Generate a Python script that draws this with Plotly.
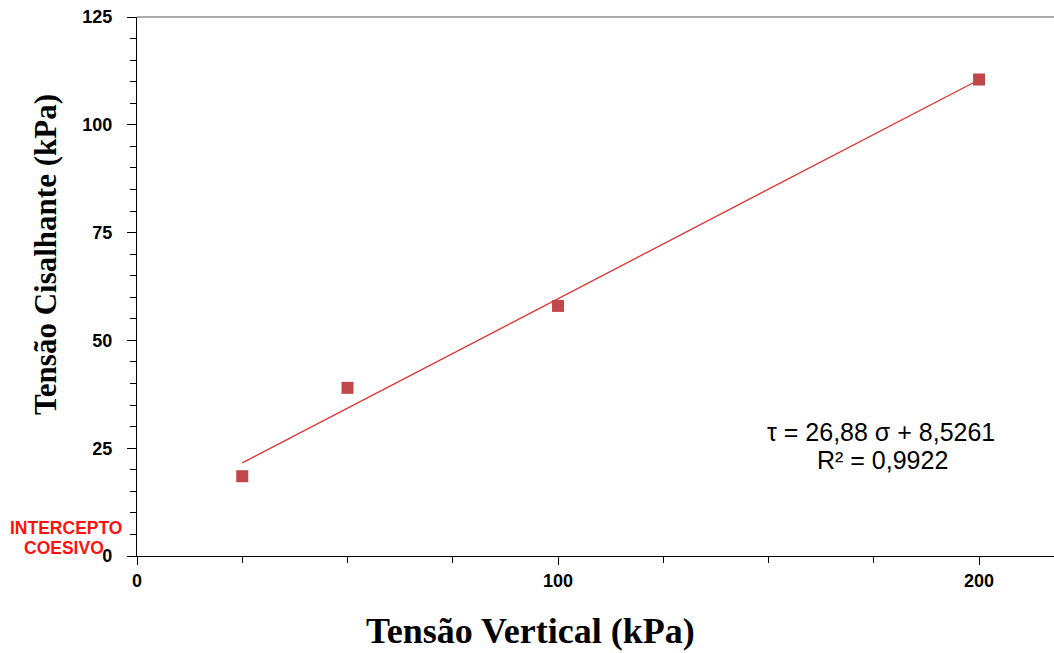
import numpy as np
import plotly.graph_objects as go

sigma = [25, 50, 100, 200]
tau = [18.5, 39.0, 58.0, 110.5]
x_ticks = [0, 100, 200]
y_ticks = [0, 25, 50, 75, 100, 125]

slope, intercept = np.polyfit(sigma, tau, 1)
fit_x = [sigma[0], sigma[-1]]
fit_y = [slope * v + intercept for v in fit_x]

L, R, T, B = 137, 1054, 17, 556
def px(xp):
    return (xp - L) / (R - L)
def py(yp):
    return (B - yp) / (B - T)

fig = go.Figure()
fig.add_trace(go.Scatter(x=fit_x, y=fit_y, mode="lines",
                         line=dict(color="#e03030", width=1.3), showlegend=False))
fig.add_trace(go.Scatter(x=sigma, y=tau, mode="markers",
                         marker=dict(symbol="square", size=12, color="#c0474a",
                                     line=dict(width=0)), showlegend=False))

tickfont = dict(family="Arial, Liberation Sans", size=18, color="black", weight="bold")
red_font = dict(family="Arial, Liberation Sans", size=17.5, color="#ff1010", weight="bold")
fig.update_layout(
    width=1054, height=653,
    margin=dict(l=L, r=1054 - R, t=T, b=653 - B),
    plot_bgcolor="white", paper_bgcolor="white",
    xaxis=dict(range=[0, 217.8], tickvals=x_ticks, ticks="outside", ticklen=8,
               tickcolor="black", showline=True, linecolor="black", linewidth=1.3,
               showgrid=False, zeroline=False, automargin=False, tickfont=tickfont,
               minor=dict(dtick=25, ticks="outside", ticklen=6, tickcolor="black", showgrid=False)),
    yaxis=dict(range=[0, 125], tickvals=y_ticks, ticks="outside", ticklen=9,
               tickcolor="black", showline=True, linecolor="black", linewidth=1.3,
               showgrid=False, zeroline=False, automargin=False, tickfont=tickfont,
               ticklabelstandoff=11,
               minor=dict(dtick=5, ticks="outside", ticklen=6, tickcolor="black", showgrid=False)),
    shapes=[dict(type="line", xref="paper", yref="paper", x0=0, x1=1, y0=1, y1=1,
                 line=dict(color="#aaaaaa", width=2))],
    annotations=[
        dict(xref="paper", yref="paper", x=px(530), y=py(631), xanchor="center", yanchor="middle",
             text="Tensão Vertical (kPa)", showarrow=False,
             font=dict(family="Liberation Serif, Times New Roman", size=36,
                       color="black", weight="bold")),
        dict(xref="paper", yref="paper", x=px(45), y=py(255), xanchor="center", yanchor="middle",
             text="Tensão Cisalhante (kPa)", showarrow=False, textangle=-90,
             font=dict(family="Liberation Serif, Times New Roman", size=31,
                       color="black", weight="bold")),
        dict(xref="paper", yref="paper", x=px(66), y=py(528), xanchor="center", yanchor="middle",
             text="INTERCEPTO", showarrow=False, font=red_font),
        dict(xref="paper", yref="paper", x=px(64), y=py(548), xanchor="center", yanchor="middle",
             text="COESIVO", showarrow=False, font=red_font),
        dict(xref="paper", yref="paper", x=px(881), y=py(432), xanchor="center", yanchor="middle",
             text="τ = 26,88 σ + 8,5261", showarrow=False,
             font=dict(family="Arial, Liberation Sans", size=25, color="black")),
        dict(xref="paper", yref="paper", x=px(882), y=py(460), xanchor="center", yanchor="middle",
             text="R² = 0,9922", showarrow=False,
             font=dict(family="Arial, Liberation Sans", size=25, color="black")),
    ],
)

fig.write_html("out.html", config={"displayModeBar": False},
               post_script="document.body.style.margin='0';document.body.style.overflow='hidden';")
